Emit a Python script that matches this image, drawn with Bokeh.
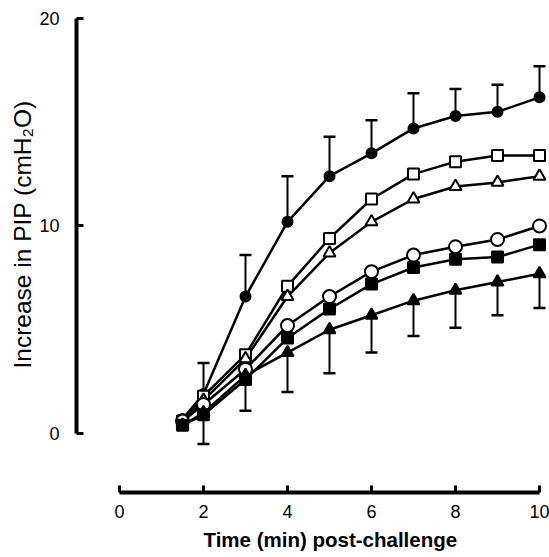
from bokeh.plotting import figure
from bokeh.models import Range1d, LinearAxis, FixedTicker, Title
from bokeh.embed import file_html
from bokeh.resources import INLINE

# ---- data ----
time_min = [1.5, 2, 3, 4, 5, 6, 7, 8, 9, 10]
filled_circle = [0.7, 1.9, 6.6, 10.2, 12.4, 13.5, 14.7, 15.3, 15.5, 16.2]
open_square = [0.6, 1.8, 3.8, 7.1, 9.4, 11.3, 12.5, 13.1, 13.4, 13.4]
open_triangle = [0.5, 1.6, 3.6, 6.6, 8.7, 10.2, 11.3, 11.9, 12.1, 12.4]
open_circle = [0.6, 1.4, 3.1, 5.2, 6.6, 7.8, 8.6, 9.0, 9.35, 10.0]
filled_square = [0.4, 0.9, 2.6, 4.6, 6.0, 7.2, 8.0, 8.4, 8.5, 9.1]
filled_triangle = [0.4, 1.0, 2.8, 3.9, 5.0, 5.7, 6.4, 6.9, 7.3, 7.7]

err_time = [2, 3, 4, 5, 6, 7, 8, 9, 10]
filled_circle_upper = [3.4, 8.6, 12.4, 14.3, 15.1, 16.4, 16.6, 16.8, 17.7]
filled_triangle_lower = [-0.5, 1.1, 2.0, 2.9, 3.9, 4.7, 5.1, 5.7, 6.05]

x_ticks = [0, 2, 4, 6, 8, 10]
y_ticks = [0, 10, 20]
x_title = "Time (min) post-challenge"
y_title = "Increase in PIP (cmH\u2082O)"

FONT = "Liberation Sans"

p = figure(width=549, height=557, output_backend="svg", toolbar_location=None,
           x_range=Range1d(-1.024, 10.238), y_range=Range1d(-2.843, 20.48),
           x_axis_location=None, y_axis_location=None)
p.min_border_left = 76
p.min_border_right = 0
p.min_border_top = 8
p.min_border_bottom = 65
p.grid.visible = False
p.outline_line_color = None
p.background_fill_color = "white"
p.border_fill_color = "white"

yaxis = LinearAxis(bounds=(0, 20), ticker=FixedTicker(ticks=y_ticks))
yaxis.axis_line_width = 4
yaxis.major_tick_in = 7
yaxis.major_tick_out = 0
yaxis.major_tick_line_width = 3
yaxis.minor_tick_line_color = None
yaxis.major_label_standoff = 17
yaxis.major_label_text_font = FONT
yaxis.major_label_text_font_size = "18px"
yaxis.major_label_text_color = "black"
p.add_layout(yaxis, "left")

xaxis = LinearAxis(bounds=(0, 10), ticker=FixedTicker(ticks=x_ticks))
xaxis.axis_line_width = 4
xaxis.major_tick_in = 7
xaxis.major_tick_out = 0
xaxis.major_tick_line_width = 3
xaxis.minor_tick_line_color = None
xaxis.major_label_standoff = 12
xaxis.major_label_text_font = FONT
xaxis.major_label_text_font_size = "18px"
xaxis.major_label_text_color = "black"
p.add_layout(xaxis, "below")

# axis titles as side titles, placed along the axis as in the reference
p.add_layout(Title(text=x_title, align="left", offset=127, standoff=11,
                   text_font=FONT, text_font_size="20.5px",
                   text_font_style="bold", text_color="black"), "below")
p.add_layout(Title(text=y_title, align="left", offset=124, standoff=2,
                   text_font=FONT, text_font_size="24.5px",
                   text_font_style="normal", text_color="black"), "left")

LW = 2.5

# error bars
fc_at_err = filled_circle[1:]
ft_at_err = filled_triangle[1:]
p.segment(x0=err_time, y0=fc_at_err, x1=err_time, y1=filled_circle_upper,
          line_color="black", line_width=2)
p.scatter(err_time, filled_circle_upper, marker="dash", size=12,
          line_color="black", line_width=2.5)
p.segment(x0=err_time, y0=ft_at_err, x1=err_time, y1=filled_triangle_lower,
          line_color="black", line_width=2)
p.scatter(err_time, filled_triangle_lower, marker="dash", size=12,
          line_color="black", line_width=2.5)

series = [
    (filled_circle, "circle", 10, "black"),
    (open_square, "square", 11, "white"),
    (open_triangle, "triangle", 12, "white"),
    (open_circle, "circle", 13, "white"),
    (filled_square, "square", 11, "black"),
    (filled_triangle, "triangle", 12, "black"),
]
for vals, _, _, _ in series:
    p.line(time_min, vals, line_color="black", line_width=LW)
for vals, marker, size, fill in series:
    p.scatter(time_min, vals, marker=marker, size=size, fill_color=fill,
              line_color="black", line_width=2)

open("out.html", "w").write(file_html(p, INLINE))
